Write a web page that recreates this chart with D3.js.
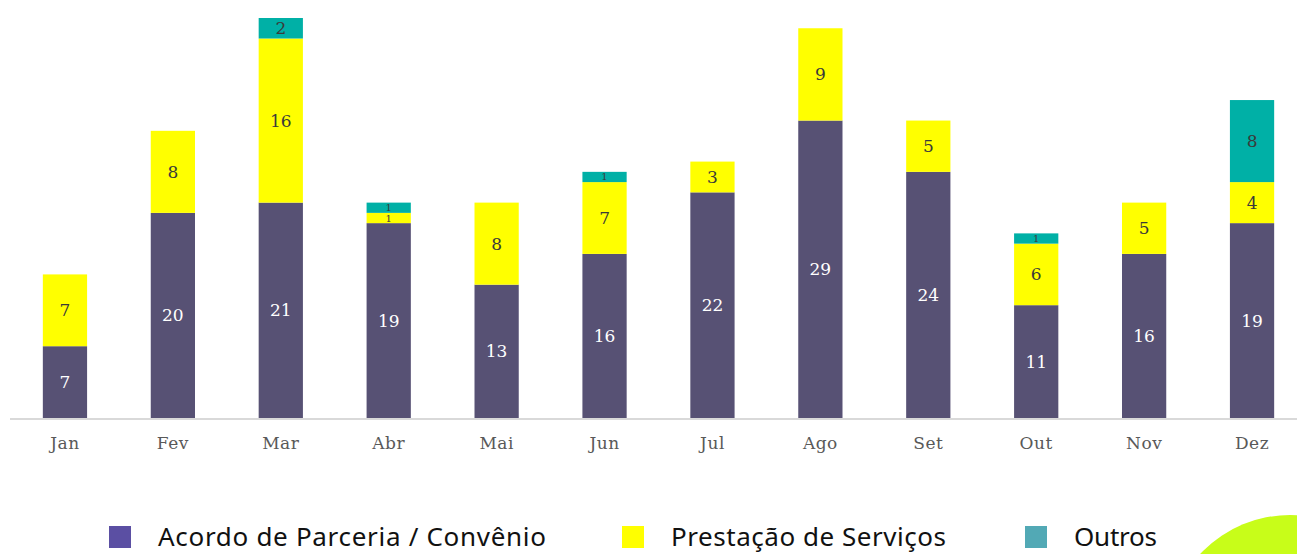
<!DOCTYPE html>
<html lang="pt">
<head>
<meta charset="UTF-8">
<title>Contratos por mês</title>
<script src="https://cdnjs.cloudflare.com/ajax/libs/d3/7.8.5/d3.min.js"></script>
<style>
  body { margin: 0; background: #fff; overflow: hidden; }
  .tick-label { font-family: "DejaVu Serif", serif; font-size: 17px; fill: #595959; letter-spacing: 0.5px; }
  .val { font-family: "DejaVu Serif", serif; font-size: 17px; text-anchor: middle; dominant-baseline: central; }
  .leg { font-family: "Noto Sans", sans-serif; font-size: 26px; fill: #111; }
</style>
</head>
<body>
<div id="chart"></div>
<script>
// months and series values
var months = ["Jan", "Fev", "Mar", "Abr", "Mai", "Jun", "Jul", "Ago", "Set", "Out", "Nov", "Dez"];
var acordo = [7, 20, 21, 19, 13, 16, 22, 29, 24, 11, 16, 19];
var prestacao = [7, 8, 16, 1, 8, 7, 3, 9, 5, 6, 5, 4];
var outros = [0, 0, 2, 1, 0, 1, 0, 0, 0, 1, 0, 8];
var seriesNames = ["Acordo de Parceria / Convênio", "Prestação de Serviços", "Outros"];

var W = 1297, H = 554;
var barColors = ["#575174", "#ffff00", "#00b0a6"];
var legendColors = ["#5b4fa3", "#ffff00", "#52a9b5"];
var labelColors = ["#ffffff", "#3a3a3a", "#3a3a3a"];

var rows = months.map(function (m, i) {
    return { month: m, s0: acordo[i], s1: prestacao[i], s2: outros[i] };
});

var svg = d3.select("#chart").append("svg")
    .attr("width", W)
    .attr("height", H);

var x = d3.scaleBand().domain(months).range([11, 1306])
    .paddingInner(0.59).paddingOuter(0.295);
var y = d3.scaleLinear().domain([0, 39]).range([418, 18]);

var stack = d3.stack().keys(["s0", "s1", "s2"]);
var layers = stack(rows);

// decorative lime circle bottom-right
svg.append("circle")
    .attr("cx", 1290).attr("cy", 638).attr("r", 123)
    .attr("fill", "#c8fd19");

var g = svg.selectAll("g.layer")
    .data(layers)
    .enter().append("g")
    .attr("class", "layer")
    .attr("fill", function (d, i) { return barColors[i]; });

g.selectAll("rect")
    .data(function (d) { return d.filter(function (s) { return s[1] - s[0] > 0; }); })
    .enter().append("rect")
    .attr("x", function (d) { return x(d.data.month); })
    .attr("y", function (d) { return y(d[1]); })
    .attr("width", x.bandwidth())
    .attr("height", function (d) { return y(d[0]) - y(d[1]); });

layers.forEach(function (layer, i) {
    svg.append("g").selectAll("text")
        .data(layer.filter(function (d) { return d[1] - d[0] > 0; }))
        .enter().append("text")
        .attr("class", "val")
        .attr("x", function (d) { return x(d.data.month) + x.bandwidth() / 2; })
        .attr("y", function (d) { return (y(d[0]) + y(d[1])) / 2; })
        .attr("fill", labelColors[i])
        // thin segments (value 1) get a smaller label so they fit the segment
        .style("font-size", function (d) { return (d[1] - d[0]) < 2 ? "10px" : null; })
        .text(function (d) { return d[1] - d[0]; });
});

// axis
var axis = svg.append("g")
    .attr("transform", "translate(0," + 419 + ")")
    .call(d3.axisBottom(x).tickSize(0).tickPadding(18));
axis.select(".domain").attr("stroke", "#d9d9d9").attr("stroke-width", 2)
    .attr("d", "M10,0H1297");
axis.selectAll(".tick text").attr("class", "tick-label").attr("font-family", null).attr("font-size", null);

// legend
var legendX = [109, 622, 1025];
var legendW = [388, 275, 83];
var legend = svg.append("g");
seriesNames.forEach(function (name, i) {
    legend.append("rect")
        .attr("x", legendX[i]).attr("y", 526)
        .attr("width", 22).attr("height", 22)
        .attr("fill", legendColors[i]);
    legend.append("text")
        .attr("class", "leg")
        .attr("x", legendX[i] + 49).attr("y", 546)
        .attr("textLength", legendW[i])
        .attr("lengthAdjust", "spacing")
        .text(name);
});
</script>
</body>
</html>
